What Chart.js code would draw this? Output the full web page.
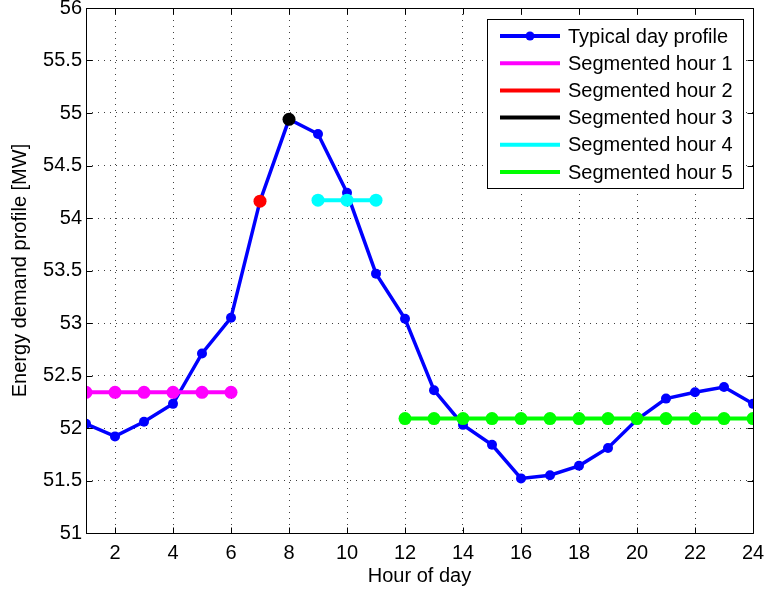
<!DOCTYPE html>
<html>
<head>
<meta charset="utf-8">
<script src="https://cdn.jsdelivr.net/npm/chart.js@4/dist/chart.umd.min.js"></script>
<style>
html,body{margin:0;padding:0;background:#fff;}
#wrap{width:764px;height:591px;}
</style>
</head>
<body>
<div id="wrap"><canvas id="c" width="764" height="591"></canvas></div>
<script>
// ---- data ----
const hours = [1,2,3,4,5,6,7,8,9,10,11,12,13,14,15,16,17,18,19,20,21,22,23,24];
const profile = [52.04,51.92,52.06,52.23,52.71,53.05,54.16,54.94,54.80,54.24,53.47,53.04,
                 52.36,52.03,51.84,51.52,51.55,51.64,51.81,52.08,52.28,52.34,52.39,52.23];
const seg1Hours = [1,2,3,4,5,6];
const seg1Values = [52.34,52.34,52.34,52.34,52.34,52.34];
const seg2Hours = [7];
const seg2Values = [54.16];
const seg3Hours = [8];
const seg3Values = [54.94];
const seg4Hours = [9,10,11];
const seg4Values = [54.17,54.17,54.17];
const seg5Hours = [12,13,14,15,16,17,18,19,20,21,22,23,24];
const seg5Values = [52.09,52.09,52.09,52.09,52.09,52.09,52.09,52.09,52.09,52.09,52.09,52.09,52.09];
const xTicks = [2,4,6,8,10,12,14,16,18,20,22,24];
const yTicks = [51,51.5,52,52.5,53,53.5,54,54.5,55,55.5,56];
const seriesNames = ['Typical day profile','Segmented hour 1','Segmented hour 2','Segmented hour 3','Segmented hour 4','Segmented hour 5'];
const seriesColors = ['#0000ff','#ff00ff','#ff0000','#000000','#00ffff','#00ff00'];

function pts(xs, ys){ return xs.map((x,i)=>({x:x,y:ys[i]})); }

const FONT = 'Liberation Sans, Arial, Helvetica, sans-serif';

const boxPlugin = {
  id:'boxPlugin',
  afterDatasetsDraw(chart){
    const ctx = chart.ctx, a = chart.chartArea;
    const xs = chart.scales.x, ys = chart.scales.y;
    ctx.save();
    ctx.strokeStyle = '#000';
    ctx.lineWidth = 1;
    const L = Math.round(a.left)+0.5, R = Math.round(a.right)+0.5, T = Math.round(a.top)+0.5, B = Math.round(a.bottom)+0.5;
    ctx.beginPath();
    ctx.rect(L, T, R-L, B-T);
    ctx.stroke();
    const tl = 6;
    ctx.beginPath();
    xTicks.forEach(v=>{
      const px = Math.round(xs.getPixelForValue(v))+0.5;
      ctx.moveTo(px,B); ctx.lineTo(px,B-tl);
      ctx.moveTo(px,T); ctx.lineTo(px,T+tl);
    });
    yTicks.forEach(v=>{
      const py = Math.round(ys.getPixelForValue(v))+0.5;
      ctx.moveTo(L,py); ctx.lineTo(L+tl,py);
      ctx.moveTo(R,py); ctx.lineTo(R-tl,py);
    });
    ctx.stroke();
    ctx.restore();
  },
  afterDraw(chart){
    const ctx = chart.ctx;
    // legend
    const lx = 487.5, ly = 19.5, lw = 256, lh = 169;
    ctx.save();
    ctx.fillStyle = '#fff';
    ctx.fillRect(lx, ly, lw, lh);
    ctx.strokeStyle = '#000';
    ctx.lineWidth = 1;
    ctx.strokeRect(lx, ly, lw, lh);
    ctx.font = '20px ' + FONT;
    ctx.textBaseline = 'middle';
    ctx.textAlign = 'left';
    for (let i=0;i<seriesNames.length;i++){
      const y = 36 + i*27.2;
      ctx.strokeStyle = seriesColors[i];
      ctx.lineWidth = 4;
      ctx.beginPath();
      ctx.moveTo(500, y); ctx.lineTo(560, y);
      ctx.stroke();
      if (i===0){
        ctx.fillStyle = seriesColors[i];
        ctx.beginPath(); ctx.arc(530, y, 4.5, 0, Math.PI*2); ctx.fill();
      }
      ctx.fillStyle = '#000';
      ctx.fillText(seriesNames[i], 568, y+1);
    }
    ctx.restore();
  }
};

const ds = (i, xs, ys, r, bw, order) => ({
  label: seriesNames[i],
  data: pts(xs, ys),
  borderColor: seriesColors[i],
  backgroundColor: seriesColors[i],
  pointBackgroundColor: seriesColors[i],
  pointBorderColor: seriesColors[i],
  pointRadius: r,
  pointBorderWidth: 0,
  borderWidth: bw,
  tension: 0,
  order: order
});

new Chart(document.getElementById('c'), {
  type: 'line',
  data: {
    datasets: [
      ds(0, hours, profile, 5, 3.5, 10),
      ds(1, seg1Hours, seg1Values, 6.5, 4, 1),
      ds(2, seg2Hours, seg2Values, 6.5, 4, 1),
      ds(3, seg3Hours, seg3Values, 6.5, 4, 1),
      ds(4, seg4Hours, seg4Values, 6.5, 4, 1),
      ds(5, seg5Hours, seg5Values, 6.5, 4, 1)
    ]
  },
  options: {
    responsive: false,
    animation: false,
    devicePixelRatio: 1,
    layout: { padding: { left: 0, right: 11, top: 8, bottom: 0 } },
    plugins: { legend: { display: false }, tooltip: { enabled: false } },
    elements: { point: { hoverRadius: 6 } },
    scales: {
      x: {
        type: 'linear', min: 1, max: 24,
        afterBuildTicks(s){ s.ticks = xTicks.map(v=>({value:v})); },
        afterFit(s){ s.height = 58; s.paddingLeft = 0; s.paddingRight = 0; },
        grid: { color: 'rgba(0,0,0,0.75)', lineWidth: 1, drawTicks: false },
        border: { display: false, dash: [1,5] },
        ticks: { color: '#000', font: { family: FONT, size: 20 }, padding: 8, maxRotation: 0, autoSkip: false,
                 callback: v => String(v) },
        title: { display: true, text: 'Hour of day', color: '#000', font: { family: FONT, size: 20 }, padding: { top: 0, bottom: 3 } }
      },
      y: {
        type: 'linear', min: 51, max: 56,
        afterBuildTicks(s){ s.ticks = yTicks.map(v=>({value:v})); },
        afterFit(s){ s.width = 86; s.paddingTop = 0; s.paddingBottom = 0; },
        grid: { color: 'rgba(0,0,0,0.75)', lineWidth: 1, drawTicks: false },
        border: { display: false, dash: [1,5] },
        ticks: { color: '#000', font: { family: FONT, size: 20 }, padding: 4, autoSkip: false,
                 callback: v => String(v) },
        title: { display: true, text: 'Energy demand profile [MW]', color: '#000', font: { family: FONT, size: 20 }, padding: { top: 8, bottom: 0 } }
      }
    }
  },
  plugins: [boxPlugin]
});
</script>
</body>
</html>
